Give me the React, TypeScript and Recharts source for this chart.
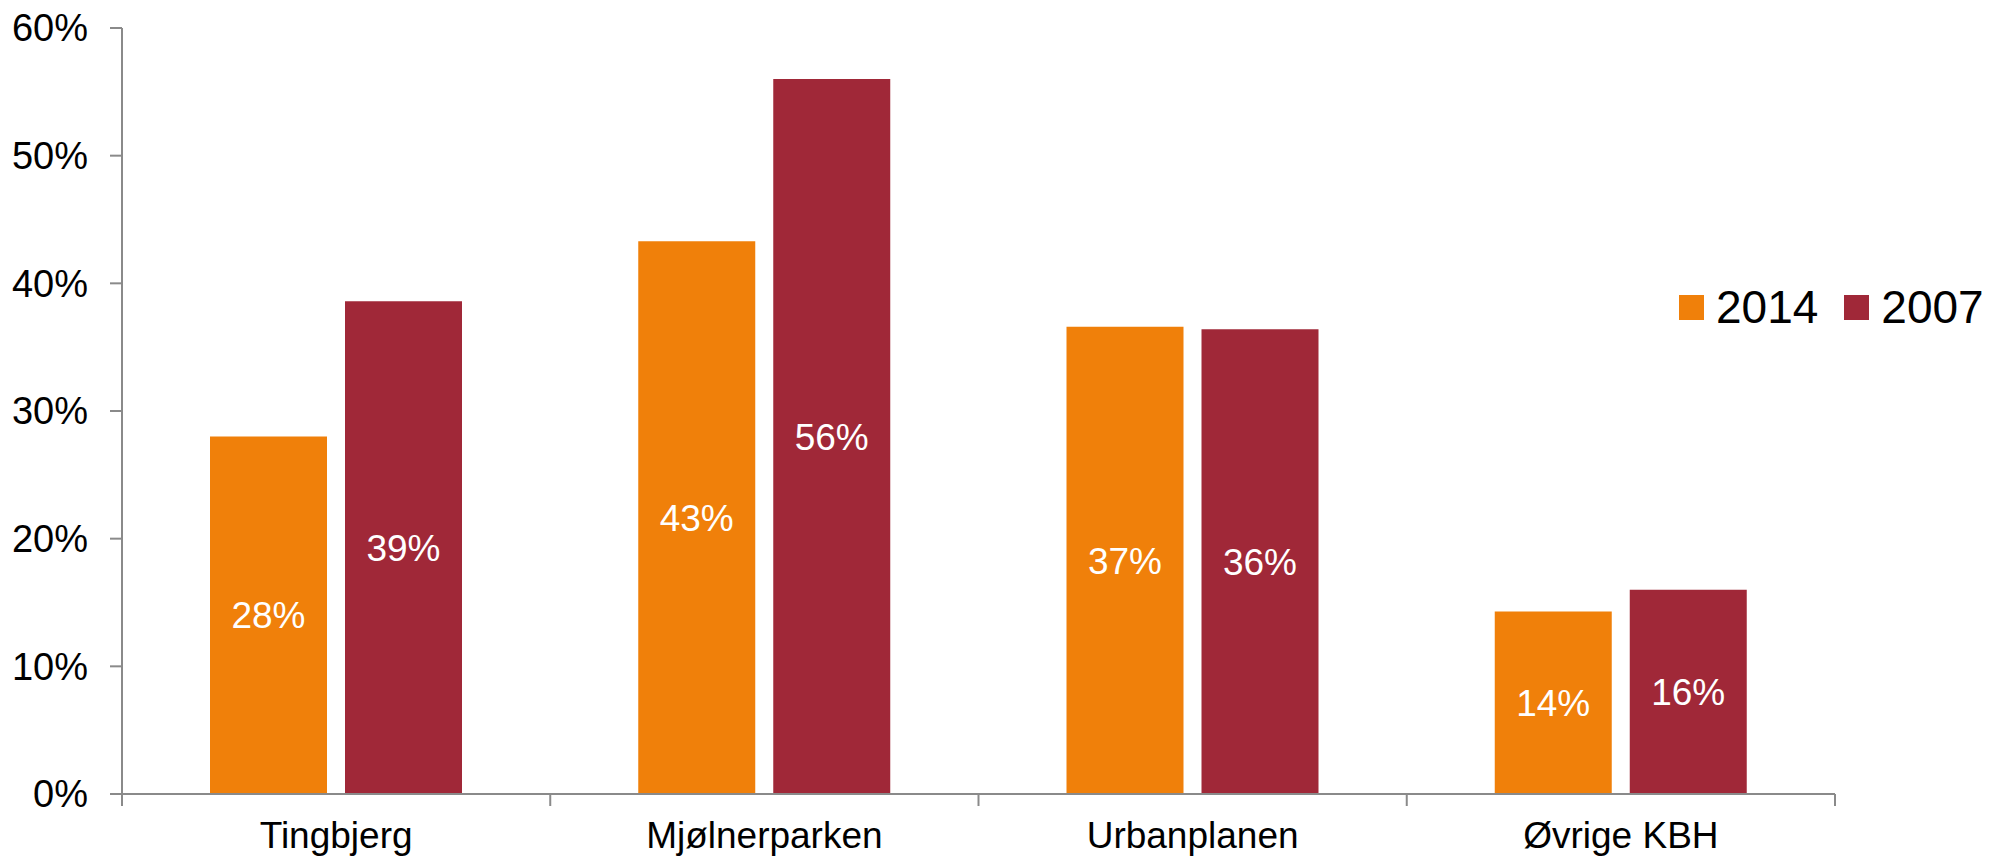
import { BarChart, Bar, XAxis, YAxis, Legend, LabelList } from 'recharts';

const categories = ['Tingbjerg', 'Mjølnerparken', 'Urbanplanen', 'Øvrige KBH'];
const seriesNames = ['2014', '2007'];
const values2014 = [28.0, 43.3, 36.6, 14.3];
const values2007 = [38.6, 56.0, 36.4, 16.0];
const yTicks = [0, 10, 20, 30, 40, 50, 60];

const ORANGE = '#F0800A';
const RED = '#A02838';
const AXIS = '#8a8a8a';
const FONT = '"Liberation Sans", Arial, sans-serif';
const TICK_SIZE = 12;
const TICK_MARGIN = 16;

const data = categories.map((name, i) => ({
  name,
  y2014: values2014[i],
  y2007: values2007[i],
}));

// category label plus the small tick marks on the band edges, like Excel draws them
function CategoryTick(props: any) {
  const { x, y, payload, index, width } = props;
  const half = payload?.offset || (width ? width / categories.length / 2 : 214);
  const axisY = y - TICK_SIZE - TICK_MARGIN;
  return (
    <g>
      {index === 0 && (
        <line x1={x - half} x2={x - half} y1={axisY} y2={axisY + TICK_SIZE} stroke={AXIS} strokeWidth={2} />
      )}
      <line x1={x + half} x2={x + half} y1={axisY} y2={axisY + TICK_SIZE} stroke={AXIS} strokeWidth={2} />
      <text x={x} y={y} dy="0.71em" textAnchor="middle" fill="#000" fontSize={37} fontFamily={FONT}>
        {payload.value}
      </text>
    </g>
  );
}

function LegendBox({ payload }: { payload?: any[] }) {
  // keep the series order, not the sorted one
  const items = [...(payload || [])].sort((a, b) => seriesNames.indexOf(a.value) - seriesNames.indexOf(b.value));
  return (
    <div style={{ display: 'flex', alignItems: 'center', fontFamily: FONT, fontSize: 46, lineHeight: 1, color: '#000' }}>
      {items.map((p) => (
        <div key={p.value} style={{ display: 'flex', alignItems: 'center', marginRight: 26 }}>
          <span style={{ width: 25, height: 25, background: p.color, display: 'inline-block', marginRight: 12 }} />
          <span>{p.value}</span>
        </div>
      ))}
    </div>
  );
}

export default function App() {
  const pct = (v: any) => `${Math.round(Number(v))}%`;
  return (
    <div style={{ position: 'absolute', left: 0, top: 0, width: 1990, height: 859, background: '#fff' }}>
      <BarChart
        width={1990}
        height={859}
        data={data}
        margin={{ top: 28, right: 155, left: 0, bottom: 0 }}
        barSize={117}
        barGap={18}
      >
        <XAxis
          dataKey="name"
          height={65}
          axisLine={{ stroke: AXIS, strokeWidth: 2 }}
          tickLine={false}
          tickSize={TICK_SIZE}
          tickMargin={TICK_MARGIN}
          interval={0}
          tick={<CategoryTick />}
        />
        <YAxis
          domain={[0, 60]}
          ticks={yTicks}
          width={122}
          tickSize={12}
          tickMargin={22}
          tickFormatter={(v) => `${v}%`}
          axisLine={{ stroke: AXIS, strokeWidth: 2 }}
          tickLine={{ stroke: AXIS, strokeWidth: 2 }}
          tick={{ fill: '#000', fontSize: 38, fontFamily: FONT }}
        />
        <Legend
          layout="horizontal"
          verticalAlign="middle"
          align="center"
          content={<LegendBox />}
          wrapperStyle={{ position: 'absolute', left: 1679, top: 284, width: 320 }}
        />
        <Bar dataKey="y2014" name="2014" fill={ORANGE} isAnimationActive={false}>
          <LabelList dataKey="y2014" position="center" formatter={pct} fill="#fff" fontSize={37} fontFamily={FONT} />
        </Bar>
        <Bar dataKey="y2007" name="2007" fill={RED} isAnimationActive={false}>
          <LabelList dataKey="y2007" position="center" formatter={pct} fill="#fff" fontSize={37} fontFamily={FONT} />
        </Bar>
      </BarChart>
    </div>
  );
}
